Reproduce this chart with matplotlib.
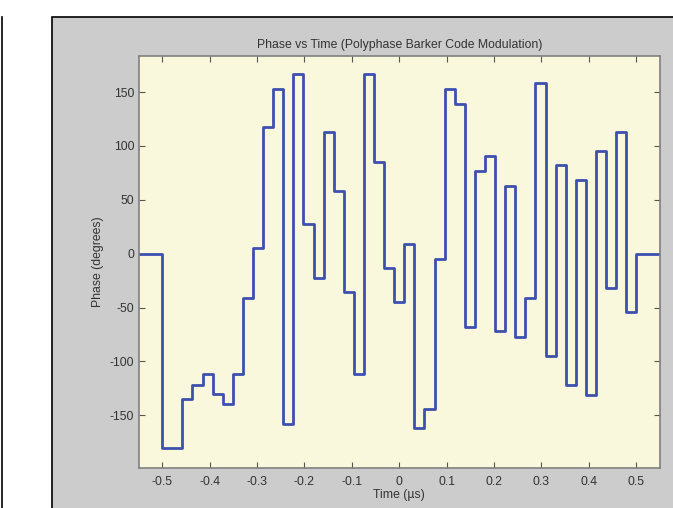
import matplotlib.pyplot as plt
from matplotlib.patches import Rectangle
from matplotlib.lines import Line2D
import numpy as np

plt.rcParams['font.family'] = ['Liberation Sans', 'DejaVu Sans']
plt.rcParams['axes.unicode_minus'] = False

# phase of each chip (degrees)
phase = [-180, -180, -135, -122, -112, -130, -140, -112, -41, 5, 118, 153,
         -158, 167, 28, -23, 113, 58, -36, -112, 167, 85, -13, -45, 9,
         -162, -144, -5, 153, 139, -68, 77, 91, -72, 63, -77, -41, 158,
         -95, 82, -122, 68, -131, 95, -32, 113, -54]
t_start = -0.5
t_stop = 0.5
xticks = [-0.5, -0.4, -0.3, -0.2, -0.1, 0, 0.1, 0.2, 0.3, 0.4, 0.5]
xticklabels = ['-0.5', '-0.4', '-0.3', '-0.2', '-0.1', '0', '0.1', '0.2', '0.3', '0.4', '0.5']
yticks = [-150, -100, -50, 0, 50, 100, 150]

W, H = 673, 508
fig = plt.figure(figsize=(W / 100, H / 100), dpi=100)
fig.patch.set_facecolor('white')

# grey figure panel with black border, like a matlab window
fig.patches.append(Rectangle((52 / W, -0.01), 1.01 - 52 / W, 1.01 - 17 / H, transform=fig.transFigure,
                             facecolor='#cccccc', edgecolor='black', linewidth=1.2, zorder=-5))
fig.lines.append(Line2D([2 / W, 2 / W], [0, 1 - 17 / H], transform=fig.transFigure,
                        color='black', linewidth=1.2, zorder=-5))

ax = fig.add_axes([138.5 / W, (H - 467.5) / H, (660 - 138.5) / W, (467.5 - 56) / H])
ax.set_facecolor('#faf8dc')

n = len(phase)
edges = t_start + (t_stop - t_start) * np.arange(n + 1) / n
xs = np.concatenate([[-0.55], edges, [0.55]])
ys = np.concatenate([[0], phase, [0, 0]])
ax.step(xs, ys, where='post', color='#3d50b0', linewidth=2.0)

ax.set_xlim(-0.55, 0.55)
ax.set_ylim(-198.5, 183.5)
ax.set_xticks(xticks, xticklabels)
ax.set_yticks(yticks)
ax.tick_params(direction='in', length=4, width=0.8, colors='#555555', labelcolor='#333333',
               labelsize=8.8, top=True, right=True)
ax.tick_params(axis='y', pad=3)
ax.tick_params(axis='x', pad=6)
for s in ax.spines.values():
    s.set_color('#808080')
    s.set_linewidth(1.2)

ax.set_title('Phase vs Time (Polyphase Barker Code Modulation)', fontsize=8.8,
             color='#333333', pad=6)
ax.set_xlabel('Time (µs)', fontsize=8.8, color='#333333', labelpad=1)
ax.set_ylabel('Phase (degrees)', fontsize=8.8, color='#333333', labelpad=4)

fig.savefig('out.png', dpi=100)
